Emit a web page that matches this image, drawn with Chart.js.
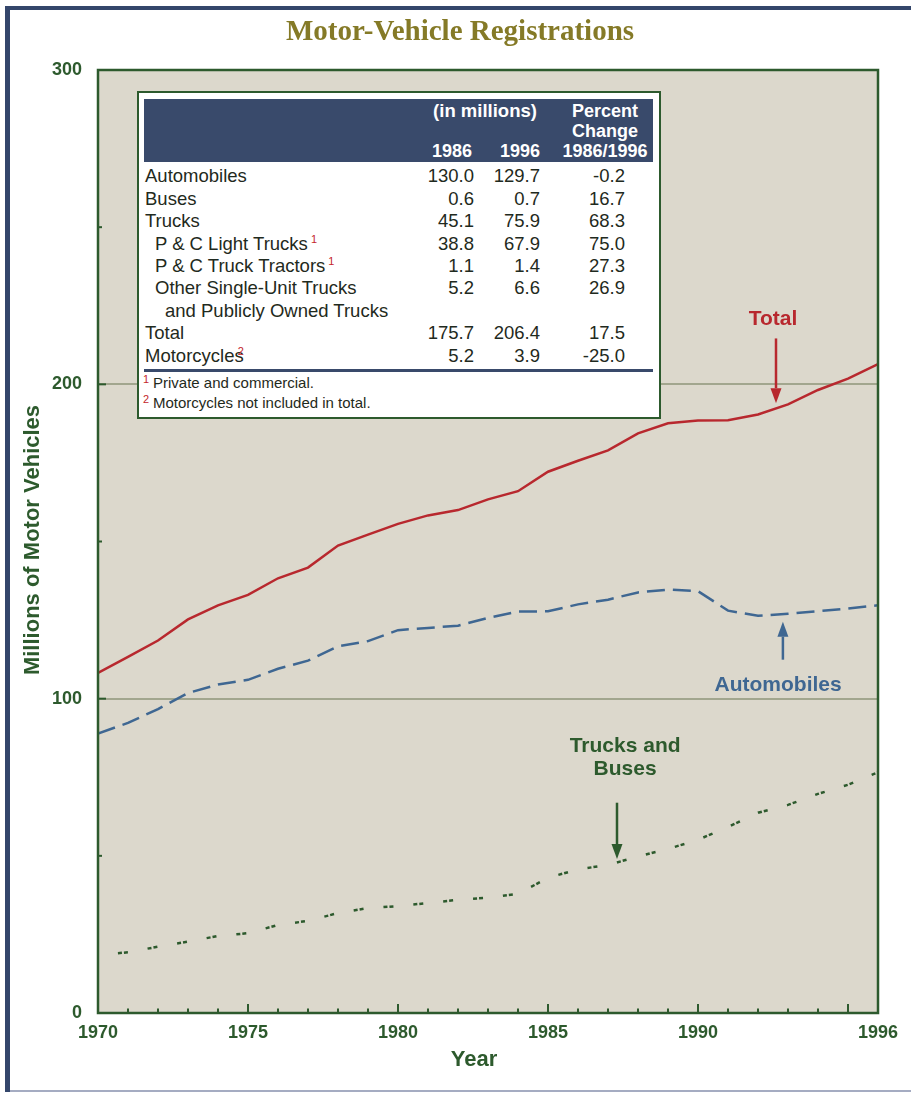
<!DOCTYPE html>
<html>
<head>
<meta charset="utf-8">
<title>Motor-Vehicle Registrations</title>
<script src="https://cdn.jsdelivr.net/npm/chart.js@4.4.1/dist/chart.umd.min.js"></script>
<style>
  html, body { margin: 0; padding: 0; background: #fff; }
  #wrap { position: relative; width: 911px; height: 1093px; overflow: hidden; }
  #chart { position: absolute; left: 0; top: 0; }
  .t { position: absolute; white-space: nowrap; line-height: 1;
       font-family: "Liberation Sans", Arial, sans-serif; color: #1f2a20; }
  .hd { color: #fff; font-weight: bold; }
  .sup { color: #c4262c; font-size: 11px; position: relative; top: -7px; margin-left: 3px; }
  #box { position: absolute; left: 137px; top: 91px; width: 524px; height: 328px;
         box-sizing: border-box; border: 2.5px solid #2d5a2d; background: #fff; }
  #band { position: absolute; left: 144px; top: 99px; width: 509px; height: 63px; background: #394a6b; }
  #rule { position: absolute; left: 144px; top: 369px; width: 509px; height: 2.5px; background: #394a6b; }
</style>
</head>
<body>
<div id="wrap">
  <canvas id="chart" width="911" height="1093"></canvas>
  <div id="box"></div>
  <div id="band"></div>
  <div id="rule"></div>
</div>
<script>
// registrations by year, millions of vehicles
const years = [1970, 1971, 1972, 1973, 1974, 1975, 1976, 1977, 1978, 1979, 1980, 1981, 1982,
               1983, 1984, 1985, 1986, 1987, 1988, 1989, 1990, 1991, 1992, 1993, 1994, 1995, 1996];
const totalVehicles = [108.2, 113.3, 118.5, 125.2, 129.7, 133.0, 138.3, 141.7, 148.7, 152.2, 155.6, 158.3, 160.0,
                       163.4, 166.0, 172.2, 175.7, 179.0, 184.4, 187.6, 188.5, 188.6, 190.4, 193.6, 198.2, 201.8, 206.4];
const automobiles = [88.9, 92.3, 96.7, 101.8, 104.5, 106.0, 109.5, 112.1, 116.7, 118.3, 121.8, 122.5, 123.2,
                     125.7, 127.7, 127.8, 130.0, 131.5, 133.8, 134.7, 134.2, 128.0, 126.4, 127.0, 127.8, 128.7, 129.7];
const trucksBuses = [18.5, 19.3, 21.1, 22.7, 24.5, 25.4, 28.0, 29.3, 31.8, 33.4, 34.0, 35.0, 36.0,
                     36.7, 37.9, 43.0, 45.7, 47.1, 49.8, 52.2, 55.1, 59.2, 63.7, 66.2, 69.7, 72.6, 76.6];

const xTickYears = [1970, 1975, 1980, 1985, 1990, 1996];
const yTicks = [0, 100, 200, 300];

// summary table
const tableRows = ['Automobiles', 'Buses', 'Trucks', 'P & C Light Trucks', 'P & C Truck Tractors',
                   'Other Single-Unit Trucks', 'and Publicly Owned Trucks', 'Total', 'Motorcycles'];
const rowLevel = [0, 0, 0, 1, 1, 1, 2, 0, 0];
const rowNote = ['', '', '', '1', '1', '', '', '', '2'];
const table1986 = ['130.0', '0.6', '45.1', '38.8', '1.1', '5.2', '', '175.7', '5.2'];
const table1996 = ['129.7', '0.7', '75.9', '67.9', '1.4', '6.6', '', '206.4', '3.9'];
const tableChange = ['-0.2', '16.7', '68.3', '75.0', '27.3', '26.9', '', '17.5', '-25.0'];
const footnotes = ['Private and commercial.', 'Motorcycles not included in total.'];

const GREEN = '#2d5a2d';
const RED = '#b8282e';
const BLUE = '#3f6792';
const W = 911;

const wrap = document.getElementById('wrap');

function addText(html, x, baseline, size, align, cls) {
  const el = document.createElement('div');
  el.className = 't' + (cls ? ' ' + cls : '');
  el.style.fontSize = size + 'px';
  el.style.top = (baseline - size * 0.8465) + 'px';
  if (align === 'right') {
    el.style.right = (W - x) + 'px';
    el.style.textAlign = 'right';
  } else if (align === 'center') {
    el.style.left = x + 'px';
    el.style.transform = 'translateX(-50%)';
    el.style.textAlign = 'center';
  } else {
    el.style.left = x + 'px';
  }
  el.innerHTML = html;
  wrap.appendChild(el);
  return el;
}

// table header
addText('(in millions)', 485, 118, 18.5, 'center', 'hd');
addText('Percent', 605, 117, 18, 'center', 'hd');
addText('Change', 605, 137, 18, 'center', 'hd');
addText('1986/1996', 605, 157, 18, 'center', 'hd');
addText('1986', 472, 157, 18, 'right', 'hd');
addText('1996', 540, 157, 18, 'right', 'hd');

// table body
tableRows.forEach((name, i) => {
  const base = 183 + i * 22.4;
  let html = name;
  if (rowNote[i]) {
    const shift = name === 'Motorcycles' ? ' style="margin-left:-6px"' : '';
    html += '<span class="sup"' + shift + '>' + rowNote[i] + '</span>';
  }
  addText(html, 145 + rowLevel[i] * 10, base, 18.5);
  if (table1986[i]) addText(table1986[i], 474, base, 18.5, 'right');
  if (table1996[i]) addText(table1996[i], 540, base, 18.5, 'right');
  if (tableChange[i]) addText(tableChange[i], 625, base, 18.5, 'right');
});

footnotes.forEach((txt, i) => {
  const base = 388 + i * 20;
  addText('<span class="sup" style="margin-left:0;top:-5px">' + (i + 1) + '</span>', 143, base, 15);
  addText(txt, 153, base, 15);
});

function points(values) {
  return years.map((yr, i) => ({ x: yr, y: values[i] }));
}

function arrow(ctx, x, yTail, yTip, color) {
  const dir = yTip > yTail ? 1 : -1;
  const head = 15;
  ctx.strokeStyle = color;
  ctx.fillStyle = color;
  ctx.lineWidth = 2.5;
  ctx.beginPath();
  ctx.moveTo(x, yTail);
  ctx.lineTo(x, yTip - dir * head);
  ctx.stroke();
  ctx.beginPath();
  ctx.moveTo(x, yTip);
  ctx.lineTo(x - 5.5, yTip - dir * head);
  ctx.lineTo(x + 5.5, yTip - dir * head);
  ctx.closePath();
  ctx.fill();
}

const decorations = {
  id: 'decorations',
  beforeDraw(chart) {
    const { ctx, chartArea: a } = chart;
    ctx.save();
    ctx.fillStyle = '#fff';
    ctx.fillRect(0, 0, chart.width, chart.height);
    // page frame
    ctx.fillStyle = '#34466b';
    ctx.fillRect(5, 6, chart.width - 5, 4);
    ctx.fillRect(5, 6, 5, 1086);
    ctx.fillStyle = '#a5acc2';
    ctx.fillRect(10, 1090, chart.width - 10, 2);
    // plot background
    ctx.fillStyle = '#dcd8cc';
    ctx.fillRect(a.left, a.top, a.right - a.left, a.bottom - a.top);
    ctx.restore();
  },
  afterDatasetsDraw(chart) {
    const { ctx, chartArea: a, scales: { x, y } } = chart;
    ctx.save();
    ctx.strokeStyle = GREEN;
    ctx.lineWidth = 2;
    // inward tick marks
    for (let yr = 1971; yr <= 1995; yr++) {
      const px = x.getPixelForValue(yr);
      const len = yr % 5 === 0 ? 9 : 4.5;
      ctx.beginPath();
      ctx.moveTo(px, a.bottom);
      ctx.lineTo(px, a.bottom - len);
      ctx.stroke();
    }
    [50, 100, 150, 200, 250].forEach(v => {
      const py = y.getPixelForValue(v);
      const len = v % 100 === 0 ? 8 : 4;
      ctx.beginPath();
      ctx.moveTo(a.left, py);
      ctx.lineTo(a.left + len, py);
      ctx.stroke();
    });
    ctx.lineWidth = 2.5;
    ctx.strokeRect(a.left, a.top, a.right - a.left, a.bottom - a.top);

    // series callouts
    ctx.font = 'bold 21px "Liberation Sans", Arial, sans-serif';
    ctx.textAlign = 'center';
    ctx.textBaseline = 'alphabetic';
    ctx.fillStyle = RED;
    ctx.fillText('Total', x.getPixelForValue(1992.5), y.getPixelForValue(219));
    arrow(ctx, x.getPixelForValue(1992.6), y.getPixelForValue(214.6), y.getPixelForValue(194), RED);

    ctx.fillStyle = BLUE;
    ctx.fillText('Automobiles', x.getPixelForValue(1992.67), y.getPixelForValue(102.5));
    arrow(ctx, x.getPixelForValue(1992.83), y.getPixelForValue(112.4), y.getPixelForValue(124.5), BLUE);

    ctx.fillStyle = GREEN;
    ctx.fillText('Trucks and', x.getPixelForValue(1987.57), y.getPixelForValue(83.1));
    ctx.fillText('Buses', x.getPixelForValue(1987.57), y.getPixelForValue(75.8));
    arrow(ctx, x.getPixelForValue(1987.3), y.getPixelForValue(66.9), y.getPixelForValue(49.0), GREEN);
    ctx.restore();
  },
  afterDraw(chart) {
    const { ctx, chartArea: a } = chart;
    ctx.save();
    ctx.textAlign = 'center';
    ctx.textBaseline = 'alphabetic';
    ctx.fillStyle = '#857a27';
    ctx.font = 'bold 29px "Liberation Serif", "Times New Roman", serif';
    ctx.fillText('Motor-Vehicle Registrations', 460, 40);

    ctx.fillStyle = GREEN;
    ctx.font = 'bold 22px "Liberation Sans", Arial, sans-serif';
    ctx.fillText('Year', (a.left + a.right) / 2 - 14, 1066);

    ctx.translate(38.5, 540);
    ctx.rotate(-Math.PI / 2);
    ctx.fillText('Millions of Motor Vehicles', 0, 0);
    ctx.restore();
  }
};

new Chart(document.getElementById('chart'), {
  type: 'line',
  data: {
    datasets: [
      { label: 'Total', data: points(totalVehicles), borderColor: RED, borderWidth: 2.5 },
      { label: 'Automobiles', data: points(automobiles), borderColor: BLUE, borderWidth: 2.5,
        borderDash: [18, 8] },
      { label: 'Trucks and Buses', data: points(trucksBuses), borderColor: GREEN, borderWidth: 2.5,
        borderDash: [4, 2, 4, 20], borderDashOffset: 10 }
    ]
  },
  options: {
    responsive: false,
    devicePixelRatio: 1,
    animation: false,
    layout: { padding: { top: 70, right: 33, left: 0, bottom: 0 } },
    elements: { point: { radius: 0 }, line: { tension: 0, borderCapStyle: 'butt' } },
    plugins: { legend: { display: false }, tooltip: { enabled: false }, title: { display: false } },
    scales: {
      x: {
        type: 'linear',
        min: 1970,
        max: 1996,
        afterBuildTicks: s => { s.ticks = xTickYears.map(v => ({ value: v })); },
        afterFit: s => { s.height = 80; },
        grid: { display: false, drawTicks: false },
        border: { display: false },
        ticks: {
          color: GREEN,
          padding: 9,
          maxRotation: 0,
          autoSkip: false,
          font: { family: '"Liberation Sans", Arial, sans-serif', size: 18, weight: 'bold' },
          callback: v => String(v)
        }
      },
      y: {
        min: 0,
        max: 300,
        afterBuildTicks: s => { s.ticks = yTicks.map(v => ({ value: v })); },
        afterFit: s => { s.width = 98; },
        grid: {
          drawTicks: false,
          lineWidth: 2,
          color: c => (c.tick && (c.tick.value === 100 || c.tick.value === 200)) ? '#a2a68e' : 'rgba(0,0,0,0)'
        },
        border: { display: false },
        ticks: {
          color: GREEN,
          padding: 16,
          font: { family: '"Liberation Sans", Arial, sans-serif', size: 18, weight: 'bold' }
        }
      }
    }
  },
  plugins: [decorations]
});
</script>
</body>
</html>
